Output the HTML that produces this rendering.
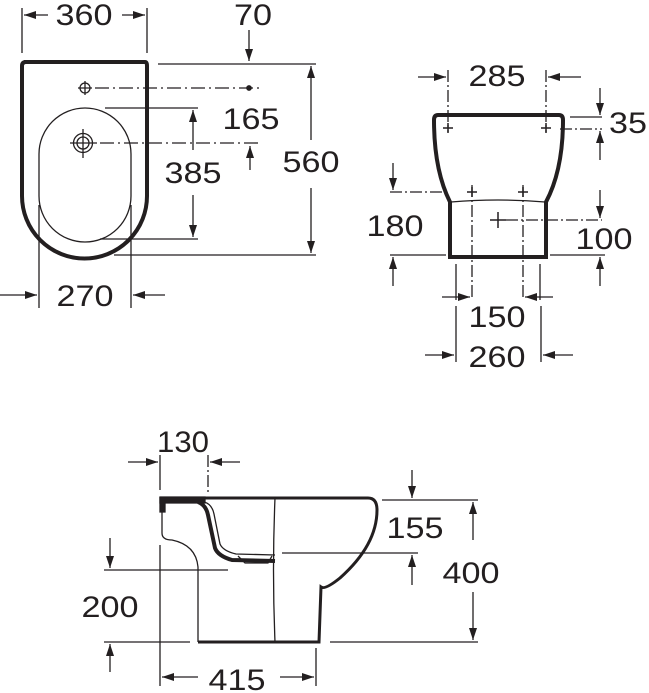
<!DOCTYPE html>
<html><head><meta charset="utf-8"><style>
html,body{margin:0;padding:0;background:#fff;}
svg{display:block;}
text{font-family:"Liberation Sans",Arial,sans-serif;font-size:30px;fill:#231f20;text-anchor:middle;}
</style></head><body>
<svg width="649" height="693" viewBox="0 0 649 693" xmlns="http://www.w3.org/2000/svg">
<defs>
<marker id="a" viewBox="0 0 12 8" refX="12" refY="4" markerWidth="12" markerHeight="8" markerUnits="userSpaceOnUse" orient="auto"><path d="M0,0 L12,4 L0,8 z" fill="#231f20"/></marker>
</defs>
<g stroke="#231f20" fill="none" stroke-width="1.3">
<!-- TOP VIEW -->
<path d="M24,62 L145,62 Q147,62 147,66 L147,196 A62.5,62.5 0 0 1 22,196 L22,66 Q22,62 26,62 Z" stroke-width="4"/>
<rect x="39" y="108" width="92" height="134" rx="46" ry="46"/>
<circle cx="85" cy="88" r="5"/>
<path d="M78,88 H92 M85,81 V95" />
<circle cx="83" cy="143" r="6"/><circle cx="83" cy="143" r="9.5"/>
<path d="M70,143 H97 M83,129 V158"/>
<path d="M95,88 H262" stroke-dasharray="14,4,2,4"/>
<circle cx="249" cy="88" r="2.2" fill="#231f20"/>
<path d="M100,143 H258" stroke-dasharray="14,4,2,4"/>
<path d="M22,8 V53 M147,8 V53"/>
<path d="M48,15 H24" marker-end="url(#a)"/><path d="M122,15 H145" marker-end="url(#a)"/>
<path d="M249,30 V61" marker-end="url(#a)"/>
<path d="M158,64 H316 M114,255 H316"/>
<path d="M311,140 V66" marker-end="url(#a)"/><path d="M311,188 V253" marker-end="url(#a)"/>
<path d="M250,170 V146" marker-end="url(#a)"/>
<path d="M105,108 H198 M100,239 H198"/>
<path d="M193,150 V110" marker-end="url(#a)"/><path d="M193,195 V237" marker-end="url(#a)"/>
<path d="M39,205 V308 M131,205 V308"/>
<path d="M0,295 H37" marker-end="url(#a)"/><path d="M165,295 H133" marker-end="url(#a)"/>

<!-- FRONT VIEW -->
<path d="M438,115 L559,115 Q563,115 563,120 Q563,170 546,202 L546,257 L450,257 L450,202 Q434,170 434,120 Q434,115 438,115 Z" stroke-width="4"/>
<path d="M451,202 Q498,198 545,202"/>
<path d="M448,70 V132 M546,70 V132 M472,185 V298 M523,185 V298" stroke-dasharray="12,3,2,3"/>
<path d="M443,128 H453 M448,123 V133 M541,128 H551 M546,123 V133 M467,192 H477 M472,187 V197 M518,192 H528 M523,187 V197 M490,220 H506 M498,212 V228" stroke-width="1.5"/>
<path d="M418,77 H446" marker-end="url(#a)"/><path d="M581,77 H548" marker-end="url(#a)"/>
<path d="M570,117 H602"/><path d="M560,129 H602" stroke-dasharray="12,3,2,3"/>
<path d="M600,88 V115" marker-end="url(#a)"/><path d="M600,160 V131" marker-end="url(#a)"/>
<path d="M390,192 H448" stroke-dasharray="12,3,2,3"/><path d="M390,255 H446"/>
<path d="M393,163 V190" marker-end="url(#a)"/><path d="M393,286 V257" marker-end="url(#a)"/>
<path d="M506,220 H602" stroke-dasharray="12,3,2,3"/><path d="M550,255 H605"/>
<path d="M600,190 V218" marker-end="url(#a)"/><path d="M600,286 V257" marker-end="url(#a)"/>
<path d="M456,264 V300 M540,264 V300 M456,306 V362 M541,306 V362"/>
<path d="M442,297 H470" marker-end="url(#a)"/><path d="M553,297 H525" marker-end="url(#a)"/>
<path d="M425,355 H454" marker-end="url(#a)"/><path d="M573,355 H543" marker-end="url(#a)"/>

<!-- SIDE VIEW -->
<path d="M160,498 L368,498 Q377,498 377,510 Q377,545 340,578 Q325,590 321,587 L319,642 L198,642" stroke-width="3"/>
<path d="M160,497 H205 V503 H160 Z" fill="#231f20"/>
<path d="M160,497 V512 H165 V497" fill="#231f20"/>
<path d="M162,512 V533 Q162,540 172,540 Q196,545 198,567 V642"/>
<path d="M275,498 Q272,570 275,642"/>
<path d="M198,502 Q206,505 208,515 L215,548 Q218,556 232,560 L275,561" stroke-width="4"/>
<path d="M204,502 Q212,504 214,514 L220,544 Q223,551 236,554 L275,555" stroke-width="1.3"/>
<path d="M238,556 L245,563 L268,563 L272,556 M240,560 H270" />
<path d="M160,455 V490"/><path d="M208,455 V492" stroke-dasharray="12,3,2,3"/>
<path d="M128,462 H158" marker-end="url(#a)"/><path d="M240,462 H210" marker-end="url(#a)"/>
<path d="M382,500 H478 M282,553 H418 M330,642 H478"/>
<path d="M412,470 V498" marker-end="url(#a)"/><path d="M412,585 V555" marker-end="url(#a)"/>
<path d="M473,540 V502" marker-end="url(#a)"/><path d="M473,592 V640" marker-end="url(#a)"/>
<path d="M104,570 H228 M104,642 H190"/>
<path d="M110,538 V568" marker-end="url(#a)"/><path d="M110,672 V644" marker-end="url(#a)"/>
<path d="M160,545 V686 M316,648 V686"/>
<path d="M198,677 H162" marker-end="url(#a)"/><path d="M280,677 H314" marker-end="url(#a)"/>
</g>
<g>
<text x="84" y="25" textLength="57" lengthAdjust="spacingAndGlyphs">360</text>
<text x="253" y="25" textLength="38" lengthAdjust="spacingAndGlyphs">70</text>
<text x="251" y="129" textLength="57" lengthAdjust="spacingAndGlyphs">165</text>
<text x="193" y="183" textLength="57" lengthAdjust="spacingAndGlyphs">385</text>
<text x="311" y="172" textLength="57" lengthAdjust="spacingAndGlyphs">560</text>
<text x="85" y="306" textLength="57" lengthAdjust="spacingAndGlyphs">270</text>
<text x="497" y="86" textLength="57" lengthAdjust="spacingAndGlyphs">285</text>
<text x="628" y="133" textLength="38" lengthAdjust="spacingAndGlyphs">35</text>
<text x="395" y="236" textLength="57" lengthAdjust="spacingAndGlyphs">180</text>
<text x="604" y="249" textLength="57" lengthAdjust="spacingAndGlyphs">100</text>
<text x="497" y="327" textLength="57" lengthAdjust="spacingAndGlyphs">150</text>
<text x="497" y="367" textLength="57" lengthAdjust="spacingAndGlyphs">260</text>
<text x="183" y="452" textLength="52" lengthAdjust="spacingAndGlyphs">130</text>
<text x="415" y="538" textLength="57" lengthAdjust="spacingAndGlyphs">155</text>
<text x="471" y="583" textLength="57" lengthAdjust="spacingAndGlyphs">400</text>
<text x="110" y="617" textLength="57" lengthAdjust="spacingAndGlyphs">200</text>
<text x="237" y="690" textLength="57" lengthAdjust="spacingAndGlyphs">415</text>
</g>
</svg>
</body></html>
